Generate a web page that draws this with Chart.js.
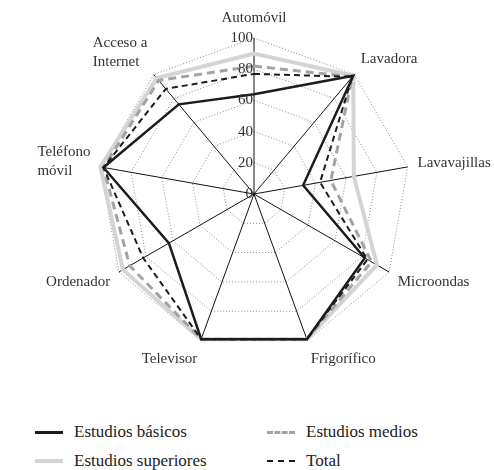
<!DOCTYPE html>
<html>
<head>
<meta charset="utf-8">
<script src="https://cdn.jsdelivr.net/npm/chart.js@4/dist/chart.umd.min.js"></script>
<style>
  body { margin: 0; background: #fff; font-family: 'Liberation Serif', 'Times New Roman', serif; color: #222; }
  #wrap { position: relative; width: 494px; height: 470px; }
  #chartBox { position: absolute; left: 0; top: 0; width: 494px; height: 380px; }
  .legend { position: absolute; left: 0; top: 422px; width: 494px; }
  .item { position: absolute; display: flex; align-items: center; font-size: 17px; white-space: nowrap; }
  .swatch { width: 28px; height: 0; margin-right: 11px; }
</style>
</head>
<body>
<div id="wrap">
  <div id="chartBox"><canvas id="radar"></canvas></div>
  <div class="legend" id="legend"></div>
</div>
<script>
// Categories and series (percent)
const categories = ['Automóvil', 'Lavadora', 'Lavavajillas', 'Microondas', 'Frigorífico',
                    'Televisor', 'Ordenador', ['Teléfono', 'móvil'], ['Acceso a', 'Internet']];
const basicos     = [64, 99, 32, 82, 99, 99, 63, 98, 75];
const medios      = [82, 98, 50, 87, 99, 99, 92, 98, 95];
const superiores  = [90, 99, 65, 91, 99, 99, 97, 100, 97];
const total       = [77, 98, 43, 84, 99, 99, 82, 98, 88];
const tickValues  = [0, 20, 40, 60, 80, 100];

const FONT = "'Liberation Serif', 'Times New Roman', serif";
const LINE_H = 19;

const series = [
  { label: 'Estudios básicos',    data: basicos,    color: '#1c1c1c', width: 2.5, dash: [],     order: 0 },
  { label: 'Estudios medios',     data: medios,     color: '#a3a3a3', width: 3,   dash: [8, 5], order: 2 },
  { label: 'Estudios superiores', data: superiores, color: '#d4d4d4', width: 4,   dash: [],     order: 3 },
  { label: 'Total',               data: total,      color: '#1c1c1c', width: 2,   dash: [6, 4], order: 1 },
];

// tick labels right-aligned against the vertical axis, point labels placed around the web
const labelPlugin = {
  id: 'labels',
  afterDraw(chart) {
    const s = chart.scales.r;
    const ctx = chart.ctx;
    ctx.save();
    ctx.fillStyle = '#333';
    ctx.font = '15px ' + FONT;
    ctx.textAlign = 'right';
    ctx.textBaseline = 'middle';
    tickValues.forEach(v => {
      const d = s.getDistanceFromCenterForValue(v);
      ctx.fillText(String(v), s.xCenter - 1, s.yCenter - d);
    });

    ctx.textAlign = 'left';
    ctx.textBaseline = 'middle';
    categories.forEach((c, i) => {
      const lines = Array.isArray(c) ? c : [c];
      const p = s.getPointPosition(i, s.drawingArea + 10);
      const a = (p.angle + Math.PI / 2);            // 0 at top, clockwise
      const sin = Math.sin(a), cos = Math.cos(a);
      const w = Math.max(...lines.map(l => ctx.measureText(l).width));
      const h = lines.length * LINE_H;
      let left;
      if (Math.abs(sin) < 0.05) left = p.x - w / 2;
      else if (sin > 0) left = p.x;
      else left = p.x - w;
      const top = p.y - h * (1 + cos) / 2;
      lines.forEach((ln, j) => ctx.fillText(ln, left, top + LINE_H * (j + 0.5)));
    });
    ctx.restore();
  }
};

new Chart(document.getElementById('radar'), {
  type: 'radar',
  data: {
    labels: categories,
    datasets: series.map(s => ({
      label: s.label,
      data: s.data,
      borderColor: s.color,
      borderWidth: s.width,
      borderDash: s.dash,
      backgroundColor: 'transparent',
      fill: false,
      pointRadius: 0,
      tension: 0,
      order: s.order,
    }))
  },
  options: {
    responsive: true,
    maintainAspectRatio: false,
    animation: false,
    layout: { padding: { top: 38, bottom: 30, left: 98, right: 84 } },
    plugins: { legend: { display: false }, tooltip: { enabled: false } },
    scales: {
      r: {
        min: 0,
        max: 100,
        ticks: { stepSize: 20, display: false },
        grid: { color: '#8a8a8a', lineWidth: 1, circular: false },
        border: { dash: [1, 2] },
        angleLines: { color: '#111', lineWidth: 1 },
        pointLabels: { display: false }
      }
    }
  },
  plugins: [labelPlugin]
});

// legend
const legendPos = [
  { left: 35,  top: 0 },  { left: 267, top: 0 },
  { left: 35,  top: 29 }, { left: 267, top: 29 },
];
const legend = document.getElementById('legend');
series.forEach((s, i) => {
  const el = document.createElement('div');
  el.className = 'item';
  el.style.left = legendPos[i].left + 'px';
  el.style.top = legendPos[i].top + 'px';
  const sw = document.createElement('span');
  sw.className = 'swatch';
  sw.style.borderTop = Math.round(s.width) + 'px ' + (s.dash.length ? 'dashed ' : 'solid ') + s.color;
  el.appendChild(sw);
  el.appendChild(document.createTextNode(s.label));
  legend.appendChild(el);
});
</script>
</body>
</html>
